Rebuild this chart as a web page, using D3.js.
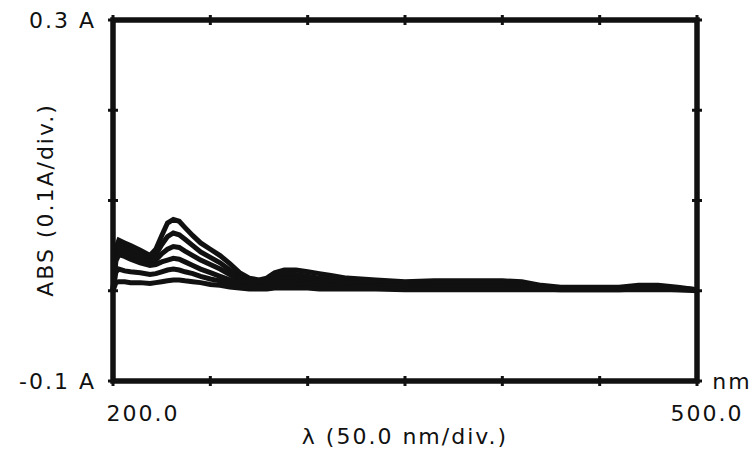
<!DOCTYPE html>
<html>
<head>
<meta charset="utf-8">
<script src="https://cdn.jsdelivr.net/npm/d3@7"></script>
<style>
  body { margin: 0; background: #fff; }
  text { font-family: "DejaVu Sans", sans-serif; fill: #111; }
</style>
</head>
<body>
<div id="chart"></div>
<script>
// wavelength samples (nm)
var wavelengths = [200, 201.5, 203, 206, 209, 214, 219, 222, 225, 228, 231, 234, 237, 241, 245, 250, 255, 260, 265, 270, 275, 279, 283, 288, 294, 300, 306, 312, 320, 335, 350, 365, 380, 400, 410, 420, 430, 445, 460, 470, 480, 490, 500];

// absorbance traces, highest first
var scan1 = [0, 0.047, 0.056, 0.053, 0.050, 0.045, 0.039, 0.046, 0.061, 0.075, 0.079, 0.077, 0.070, 0.061, 0.053, 0.046, 0.039, 0.030, 0.020, 0.014, 0.012, 0.014, 0.020, 0.023, 0.023, 0.021, 0.019, 0.017, 0.014, 0.012, 0.010, 0.011, 0.011, 0.011, 0.010, 0.006, 0.004, 0.004, 0.004, 0.006, 0.006, 0.004, 0.001];
var scan2 = [0, 0.043, 0.051, 0.048, 0.045, 0.041, 0.036, 0.040, 0.051, 0.060, 0.064, 0.062, 0.057, 0.050, 0.043, 0.037, 0.031, 0.023, 0.015, 0.011, 0.009, 0.010, 0.016, 0.018, 0.018, 0.016, 0.014, 0.013, 0.011, 0.009, 0.008, 0.009, 0.009, 0.009, 0.008, 0.005, 0.003, 0.003, 0.003, 0.005, 0.005, 0.003, 0.001];
var scan3 = [0, 0.039, 0.046, 0.043, 0.040, 0.036, 0.032, 0.034, 0.041, 0.046, 0.049, 0.048, 0.044, 0.039, 0.034, 0.029, 0.024, 0.018, 0.012, 0.008, 0.007, 0.008, 0.012, 0.014, 0.014, 0.012, 0.011, 0.010, 0.009, 0.007, 0.006, 0.007, 0.007, 0.007, 0.006, 0.004, 0.002, 0.002, 0.002, 0.004, 0.004, 0.002, 0.001];
var scan4 = [0, 0.033, 0.040, 0.038, 0.035, 0.031, 0.028, 0.029, 0.032, 0.034, 0.036, 0.035, 0.032, 0.028, 0.024, 0.020, 0.016, 0.012, 0.008, 0.006, 0.005, 0.006, 0.009, 0.010, 0.010, 0.009, 0.008, 0.007, 0.006, 0.005, 0.005, 0.005, 0.005, 0.005, 0.004, 0.003, 0.002, 0.002, 0.002, 0.003, 0.003, 0.002, 0.001];
var scan5 = [0, 0.021, 0.024, 0.022, 0.021, 0.020, 0.018, 0.019, 0.021, 0.023, 0.024, 0.023, 0.021, 0.019, 0.016, 0.013, 0.011, 0.008, 0.006, 0.004, 0.004, 0.004, 0.006, 0.007, 0.007, 0.006, 0.005, 0.005, 0.004, 0.004, 0.003, 0.003, 0.003, 0.003, 0.003, 0.002, 0.001, 0.001, 0.001, 0.002, 0.002, 0.001, 0.001];
var scan6 = [0, 0.009, 0.010, 0.010, 0.009, 0.009, 0.008, 0.009, 0.010, 0.011, 0.012, 0.012, 0.011, 0.010, 0.009, 0.007, 0.006, 0.004, 0.003, 0.002, 0.002, 0.002, 0.003, 0.003, 0.003, 0.003, 0.002, 0.002, 0.002, 0.002, 0.001, 0.001, 0.001, 0.001, 0.001, 0.001, 0.001, 0.001, 0.001, 0.001, 0.001, 0.001, 0.000];

var xTicks = [200, 250, 300, 350, 400, 450, 500];
var yTicks = [-0.1, 0, 0.1, 0.2, 0.3];

(function() {
  var width = 753, height = 449;
  var plotLeft = 113, plotRight = 697, plotTop = 20, plotBottom = 381;

  var svg = d3.select("#chart").append("svg")
    .attr("width", width)
    .attr("height", height);

  var x = d3.scaleLinear().domain([200, 500]).range([plotLeft, plotRight]);
  var y = d3.scaleLinear().domain([-0.1, 0.3]).range([plotBottom, plotTop]);

  var line = d3.line()
    .x(function(d) { return x(d[0]); })
    .y(function(d) { return y(d[1]); });

  // traces
  [scan1, scan2, scan3, scan4, scan5, scan6].forEach(function(s) {
    svg.append("path")
      .datum(wavelengths.map(function(w, i) { return [w, s[i]]; }))
      .attr("d", line)
      .attr("fill", "none")
      .attr("stroke", "#111")
      .attr("stroke-width", 5);
  });

  // frame
  svg.append("rect")
    .attr("x", plotLeft).attr("y", plotTop)
    .attr("width", plotRight - plotLeft).attr("height", plotBottom - plotTop)
    .attr("fill", "none")
    .attr("stroke", "#111")
    .attr("stroke-width", 5.5);

  // tick marks crossing the frame
  xTicks.forEach(function(t) {
    [plotTop, plotBottom].forEach(function(yy) {
      svg.append("line")
        .attr("x1", x(t)).attr("x2", x(t))
        .attr("y1", yy - 5).attr("y2", yy + 5)
        .attr("stroke", "#111").attr("stroke-width", 3);
    });
  });
  yTicks.forEach(function(t) {
    [plotLeft, plotRight].forEach(function(xx) {
      svg.append("line")
        .attr("x1", xx - 5).attr("x2", xx + 5)
        .attr("y1", y(t)).attr("y2", y(t))
        .attr("stroke", "#111").attr("stroke-width", 3);
    });
  });

  // labels
  function label(txt, px, py, anchor) {
    return svg.append("text")
      .attr("x", px).attr("y", py)
      .attr("text-anchor", anchor)
      .attr("font-size", 22)
      .attr("letter-spacing", 2)
      .text(txt);
  }
  label("0.3 A", 96, y(0.3) + 8, "end");
  label("-0.1 A", 96, y(-0.1) + 8, "end");
  label("200.0", 143, 421, "middle");
  label("500.0", 707, 421, "middle");
  label("nm", 732, 389, "middle");
  label("\u03bb (50.0 nm/div.)", 405, 444, "middle");

  svg.append("text")
    .attr("transform", "translate(53,200) rotate(-90)")
    .attr("text-anchor", "middle")
    .attr("font-size", 22)
    .attr("letter-spacing", 2)
    .text("ABS (0.1A/div.)");
})();
</script>
</body>
</html>
